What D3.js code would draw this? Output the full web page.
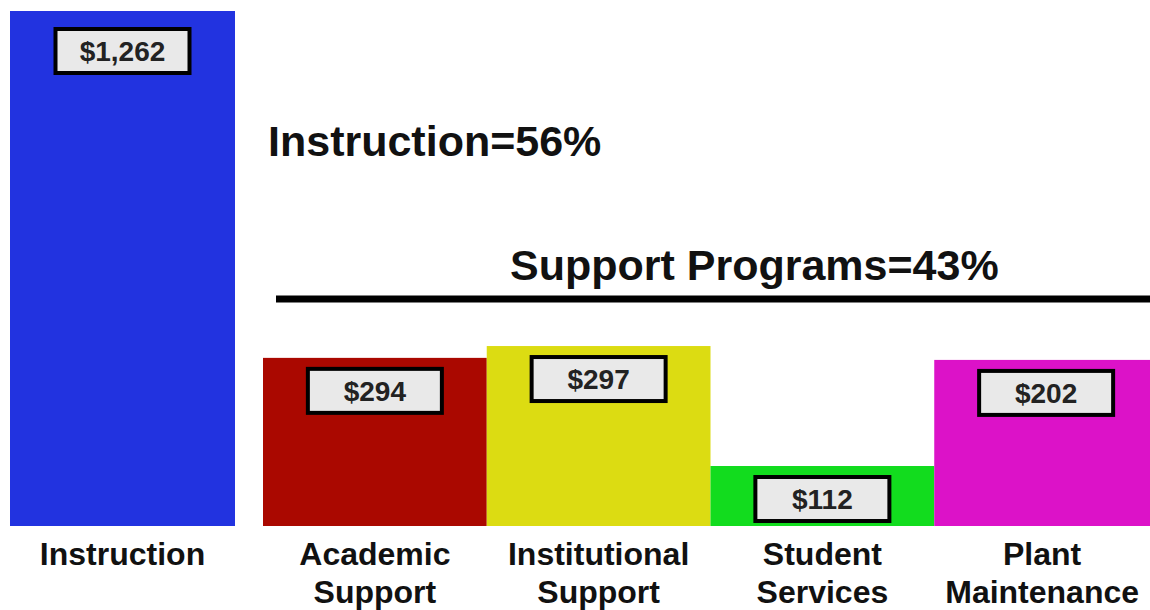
<!DOCTYPE html>
<html>
<head>
<meta charset="utf-8">
<script src="https://cdn.jsdelivr.net/npm/d3@7"></script>
<style>
  html, body { margin: 0; padding: 0; background: #fff; }
  svg { display: block; font-family: "Liberation Sans", Arial, sans-serif; font-weight: bold; }
</style>
</head>
<body>
<div id="chart"></div>
<script>
// Spending per category (labels shown in the boxes)
const categories = ['Instruction', 'Academic Support', 'Institutional Support', 'Student Services', 'Plant Maintenance'];
const labelLines = [['Instruction'], ['Academic', 'Support'], ['Institutional', 'Support'], ['Student', 'Services'], ['Plant', 'Maintenance']];
const values = [1262, 294, 297, 112, 202];
// the original bars are not drawn to scale: drawn height of each bar, in $ units relative to Instruction
const drawnLevels = [1262, 412, 441, 147, 407];
const barColors = ['#2233e0', '#aa0800', '#dcdc12', '#12dc1e', '#dc12c8'];
const groupTitles = ['Instruction=56%', 'Support Programs=43%'];

const CHART_WIDTH = 1150;
const CHART_HEIGHT = 610;
const BASELINE = 526;

const data = categories.map((c, i) => ({
    name: c,
    lines: labelLines[i],
    value: values[i],
    level: drawnLevels[i],
    color: barColors[i],
    group: i === 0 ? 'main' : 'support'
}));

const svg = d3.select('#chart')
    .append('svg')
    .attr('width', CHART_WIDTH)
    .attr('height', CHART_HEIGHT);

// Scales
const yScale = d3.scaleLinear()
    .domain([0, d3.max(drawnLevels)])
    .range([BASELINE, 11]);

const xMain = d3.scaleBand()
    .domain([categories[0]])
    .range([10, 235]);

const xSupport = d3.scaleBand()
    .domain(categories.slice(1))
    .range([263, 1158]);

const xOf = d => d.group === 'main' ? xMain(d.name) : xSupport(d.name);
const bw = d => d.group === 'main' ? xMain.bandwidth() : xSupport.bandwidth();

// Bars
svg.append('g')
    .selectAll('rect')
    .data(data)
    .enter()
    .append('rect')
    .attr('x', d => xOf(d))
    .attr('y', d => yScale(d.level))
    .attr('width', d => Math.min(bw(d), CHART_WIDTH - xOf(d)))
    .attr('height', d => BASELINE - yScale(d.level))
    .attr('fill', d => d.color);

// Value boxes
const BOX_W = 134, BOX_H = 44;
const boxes = svg.append('g')
    .selectAll('g')
    .data(data)
    .enter()
    .append('g')
    .attr('transform', d => {
        const cx = xOf(d) + bw(d) / 2;
        const top = yScale(d.level) + (d.group === 'main' ? 18 : 11);
        return `translate(${cx - BOX_W / 2}, ${top})`;
    });

boxes.append('rect')
    .attr('width', BOX_W)
    .attr('height', BOX_H)
    .attr('fill', '#e9e9e9')
    .attr('stroke', '#000')
    .attr('stroke-width', 4);

boxes.append('text')
    .attr('x', BOX_W / 2)
    .attr('y', BOX_H / 2 + 10)
    .attr('text-anchor', 'middle')
    .attr('font-size', 28)
    .attr('fill', '#222')
    .text(d => '$' + d3.format(',')(d.value));

// Category labels
const labels = svg.append('g')
    .selectAll('text')
    .data(data)
    .enter()
    .append('text')
    .attr('text-anchor', 'middle')
    .attr('font-size', 32)
    .attr('fill', '#111')
    .attr('transform', d => `translate(${xOf(d) + Math.min(bw(d), CHART_WIDTH - xOf(d)) / 2}, 565)`);

labels.selectAll('tspan')
    .data(d => d.lines)
    .enter()
    .append('tspan')
    .attr('x', 0)
    .attr('y', (l, i) => i * 38)
    .text(l => l);

// Group annotations
svg.append('text')
    .attr('x', 268)
    .attr('y', 156)
    .attr('font-size', 43)
    .attr('fill', '#111')
    .text(groupTitles[0]);

svg.append('text')
    .attr('x', 510)
    .attr('y', 280)
    .attr('font-size', 43)
    .attr('fill', '#111')
    .text(groupTitles[1]);

svg.append('line')
    .attr('x1', xSupport.range()[0] + 13)
    .attr('x2', CHART_WIDTH)
    .attr('y1', 299)
    .attr('y2', 299)
    .attr('stroke', '#000')
    .attr('stroke-width', 7);
</script>
</body>
</html>
